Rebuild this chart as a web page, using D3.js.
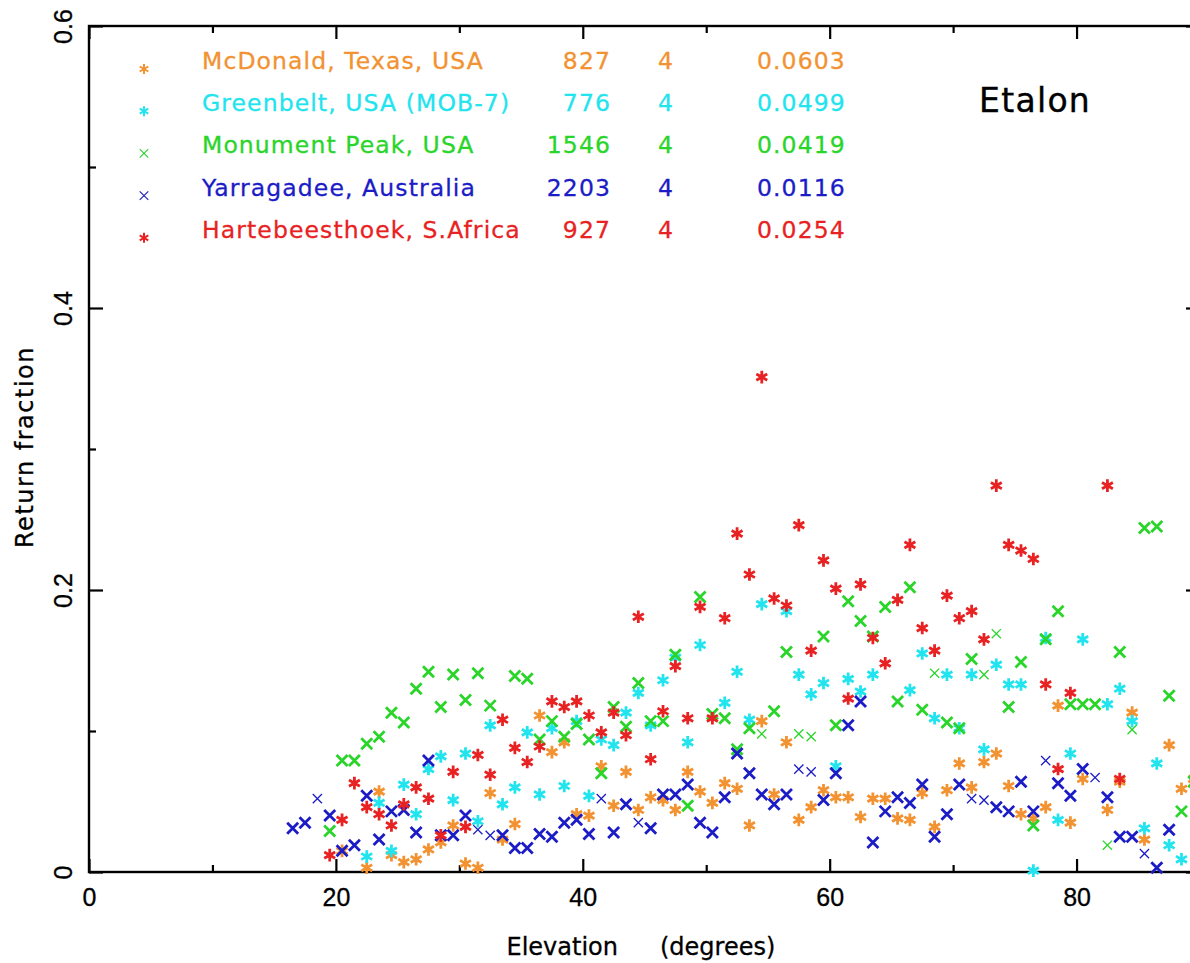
<!DOCTYPE html>
<html>
<head>
<meta charset="utf-8">
<script src="https://cdn.jsdelivr.net/npm/d3@7"></script>
<style>
  html, body { margin: 0; padding: 0; background: #fff; }
  svg { display: block; font-family: "DejaVu Sans", sans-serif; }
</style>
</head>
<body>
<svg id="chart" width="1190" height="963"></svg>
<script>
// elevation bin centres (degrees)
const elevation = [
  16.5, 17.5, 18.5, 19.5, 20.5, 21.5, 22.5, 23.5, 24.5, 25.5,
  26.5, 27.5, 28.5, 29.5, 30.5, 31.5, 32.5, 33.5, 34.5, 35.5,
  36.5, 37.5, 38.5, 39.5, 40.5, 41.5, 42.5, 43.5, 44.5, 45.5,
  46.5, 47.5, 48.5, 49.5, 50.5, 51.5, 52.5, 53.5, 54.5, 55.5,
  56.5, 57.5, 58.5, 59.5, 60.5, 61.5, 62.5, 63.5, 64.5, 65.5,
  66.5, 67.5, 68.5, 69.5, 70.5, 71.5, 72.5, 73.5, 74.5, 75.5,
  76.5, 77.5, 78.5, 79.5, 80.5, 81.5, 82.5, 83.5, 84.5, 85.5,
  86.5, 87.5, 88.5, 89.5
];

// return fraction per bin, null = no point
const mcdonald = [
  null, null, null, null, 0.015, null, 0.003, 0.057, 0.012, 0.007,
  0.009, 0.016, 0.021, 0.033, 0.006, 0.003, 0.056, 0.023, 0.034, null,
  0.111, 0.085, 0.092, 0.041, 0.040, 0.075, 0.047, 0.071, 0.044, 0.053,
  0.051, 0.044, 0.071, 0.057, 0.049, 0.063, 0.059, 0.033, 0.107, 0.055,
  0.092, 0.037, 0.046, 0.058, 0.053, 0.053, 0.039, 0.052, 0.052, 0.038,
  0.037, 0.056, 0.032, 0.058, 0.077, 0.060, 0.078, 0.084, 0.061, 0.041,
  0.038, 0.046, 0.118, 0.035, 0.066, null, 0.044, 0.064, 0.113, 0.023,
  null, 0.090, 0.059, 0.066
];
const greenbelt = [
  null, null, null, null, null, null, 0.011, 0.049, 0.015, 0.062,
  0.041, 0.073, 0.082, 0.051, 0.084, 0.036, 0.104, 0.048, 0.060, 0.099,
  0.055, 0.102, 0.061, 0.107, 0.054, 0.094, 0.090, 0.113, 0.127, 0.104,
  0.136, 0.152, 0.092, 0.161, null, 0.120, 0.142, 0.108, 0.190, null,
  0.185, 0.140, 0.126, 0.134, 0.075, 0.137, 0.128, 0.140, null, null,
  0.129, 0.155, 0.109, 0.140, 0.102, 0.140, 0.087, 0.147, 0.133, 0.133,
  0.001, 0.166, 0.037, 0.084, 0.165, null, 0.119, 0.130, 0.107, 0.031,
  0.077, 0.019, 0.009, null
];
const monument = [
  null, null, null, 0.029, 0.079, 0.079, 0.091, 0.096, 0.113, 0.106,
  0.130, 0.142, 0.117, 0.140, 0.122, 0.141, 0.118, null, 0.139, 0.137,
  0.094, 0.107, 0.096, 0.105, 0.094, 0.070, 0.117, 0.103, 0.134, 0.107,
  0.107, 0.154, 0.047, 0.195, 0.112, 0.109, 0.087, 0.102, 0.098, 0.114,
  0.156, 0.098, 0.096, 0.167, 0.104, 0.192, 0.178, 0.167, 0.188, 0.121,
  0.202, 0.115, 0.141, 0.106, 0.102, 0.151, 0.140, 0.169, 0.117, 0.149,
  0.033, 0.165, 0.185, 0.119, 0.119, 0.119, 0.019, 0.156, 0.101, 0.244,
  0.245, 0.125, 0.043, 0.064
];
const yarragadee = [
  0.031, 0.035, 0.052, 0.040, 0.015, 0.019, 0.054, 0.023, 0.043, 0.044,
  0.028, 0.079, 0.026, 0.026, 0.040, 0.030, 0.026, 0.026, 0.017, 0.017,
  0.027, 0.025, 0.035, 0.037, 0.027, 0.052, 0.028, 0.048, 0.035, 0.031,
  0.055, 0.055, 0.062, 0.035, 0.028, 0.053, 0.084, 0.070, 0.055, 0.048,
  0.055, 0.073, 0.071, 0.051, 0.070, 0.104, 0.121, 0.021, 0.043, 0.053,
  0.049, 0.062, 0.025, 0.041, 0.062, 0.052, 0.051, 0.046, 0.043, 0.064,
  0.043, 0.079, 0.063, 0.054, 0.073, 0.067, 0.053, 0.025, 0.025, 0.013,
  0.003, 0.030, null, null
];
const hartebeesthoek = [
  null, null, null, 0.012, 0.037, 0.063, 0.046, 0.041, 0.033, 0.048,
  0.060, 0.052, 0.026, 0.071, 0.032, 0.083, 0.069, 0.108, 0.088, 0.078,
  0.089, 0.121, 0.117, 0.121, 0.111, 0.099, 0.113, 0.097, 0.181, 0.080,
  0.114, 0.146, 0.109, 0.188, 0.109, 0.180, 0.240, 0.211, 0.351, 0.194,
  0.189, 0.246, 0.157, 0.221, 0.201, 0.123, 0.204, 0.166, 0.148, 0.193,
  0.232, 0.173, 0.157, 0.196, 0.180, 0.185, 0.165, 0.274, 0.232, 0.228,
  0.222, 0.133, 0.073, 0.127, null, null, 0.274, 0.066, null, null,
  null, null, null, null
];

// legend table
const stations = ["McDonald, Texas, USA", "Greenbelt, USA (MOB-7)", "Monument Peak, USA",
                  "Yarragadee, Australia", "Hartebeesthoek, S.Africa"];
const passes = [827, 776, 1546, 2203, 927];
const column2 = [4, 4, 4, 4, 4];
const fractions = ["0.0603", "0.0499", "0.0419", "0.0116", "0.0254"];

const xTicks = [0, 20, 40, 60, 80];
const xMinor = [10, 30, 50, 70, 90];
const yTicks = [0, 0.2, 0.4, 0.6];
const yMinor = [0.1, 0.3, 0.5];

// styling
const colors = ["#f29230", "#22e4ee", "#2ad52a", "#1c1cc6", "#e82222"];
const shapes = ["star", "star", "cross", "cross", "star"];
// bins where the x marker is drawn thin
const thinBins = {
  2: [54.5, 57.5, 58.5, 68.5, 72.5, 73.5, 82.5, 84.5],
  3: [18.5, 31.5, 32.5, 41.5, 44.5, 57.5, 58.5, 71.5, 72.5, 77.5, 81.5, 85.5]
};

const series = [mcdonald, greenbelt, monument, yarragadee, hartebeesthoek];

const svg = d3.select("#chart");
const plotL = 89, plotR = 1200, plotT = 26, plotB = 872;

const x = d3.scaleLinear().domain([0, 90]).range([plotL, plotR]);
const y = d3.scaleLinear().domain([0, 0.6]).range([plotB, plotT]);

function markerPath(shape, r) {
  if (shape === "cross") {
    return `M${-r},${-r}L${r},${r}M${-r},${r}L${r},${-r}`;
  }
  const c = r * Math.cos(Math.PI / 6), s = r * Math.sin(Math.PI / 6);
  return `M0,${-r}L0,${r}M${-c},${-s}L${c},${s}M${-c},${s}L${c},${-s}`;
}

// axes: ticks point inward, frame drawn separately
const fmt = d3.format("~g");
const tickStyle = g => {
  g.select(".domain").remove();
  g.selectAll(".tick line").attr("stroke", "#000").attr("stroke-width", 2.2);
  g.selectAll("text").attr("fill", "#000").attr("font-size", 25)
    .attr("stroke", "#000").attr("stroke-width", 0.3);
};

svg.append("g").attr("transform", `translate(0,${plotB})`)
  .call(d3.axisBottom(x).tickValues(xTicks).tickSize(-13).tickPadding(16).tickFormat(fmt))
  .call(tickStyle);
svg.append("g").attr("transform", `translate(0,${plotB})`)
  .call(d3.axisBottom(x).tickValues(xMinor).tickSize(-7).tickFormat(""))
  .call(tickStyle);
svg.append("g").attr("transform", `translate(0,${plotT})`)
  .call(d3.axisTop(x).tickValues(xTicks).tickSize(-13).tickFormat(""))
  .call(tickStyle);
svg.append("g").attr("transform", `translate(0,${plotT})`)
  .call(d3.axisTop(x).tickValues(xMinor).tickSize(-7).tickFormat(""))
  .call(tickStyle);

const yAxis = svg.append("g").attr("transform", `translate(${plotL},0)`)
  .call(d3.axisLeft(y).tickValues(yTicks).tickSize(-14).tickFormat(fmt))
  .call(tickStyle);
yAxis.selectAll(".tick text")
  .attr("transform", "rotate(-90)")
  .attr("x", 0).attr("y", -17).attr("dy", 0)
  .attr("text-anchor", "middle");
svg.append("g").attr("transform", `translate(${plotL},0)`)
  .call(d3.axisLeft(y).tickValues(yMinor).tickSize(-7).tickFormat(""))
  .call(tickStyle);
svg.append("g").attr("transform", `translate(${plotR},0)`)
  .call(d3.axisRight(y).tickValues(yTicks).tickSize(-14).tickFormat(""))
  .call(tickStyle);
svg.append("g").attr("transform", `translate(${plotR},0)`)
  .call(d3.axisRight(y).tickValues(yMinor).tickSize(-7).tickFormat(""))
  .call(tickStyle);

svg.append("rect")
  .attr("x", plotL).attr("y", plotT)
  .attr("width", plotR - plotL).attr("height", plotB - plotT)
  .attr("fill", "none").attr("stroke", "#000").attr("stroke-width", 2.4);

// axis titles
const title = (sel) => sel.attr("font-size", 24).attr("fill", "#000")
  .attr("stroke", "#000").attr("stroke-width", 0.3);
svg.append("text").attr("x", 618).attr("y", 955)
  .attr("text-anchor", "end").call(title).text("Elevation");
svg.append("text").attr("x", 660).attr("y", 955)
  .call(title).text("(degrees)");
svg.append("text")
  .attr("transform", "translate(33,447) rotate(-90)")
  .attr("text-anchor", "middle").call(title)
  .attr("letter-spacing", 1.5).text("Return fraction");

// points
series.forEach((vals, si) => {
  const pts = elevation.map((e, i) => ({ e, v: vals[i] })).filter(d => d.v != null);
  const thin = thinBins[si] || [];
  svg.append("g")
    .selectAll("path")
    .data(pts)
    .join("path")
    .attr("transform", d => `translate(${x(d.e)},${y(d.v)})`)
    .attr("d", d => markerPath(shapes[si], thin.includes(d.e) ? 4.6 : (shapes[si] === "star" ? 6.3 : 5.5)))
    .attr("fill", "none")
    .attr("stroke", colors[si])
    .attr("stroke-width", d => thin.includes(d.e) ? 1.3 : 2.8);
});

// legend
const rowY = i => 69 + 42.2 * i;
const legend = svg.append("g");
stations.forEach((name, i) => {
  legend.append("path")
    .attr("transform", `translate(144,${rowY(i)})`)
    .attr("d", markerPath(shapes[i], shapes[i] === "star" ? 5 : 4.3))
    .attr("fill", "none").attr("stroke", colors[i])
    .attr("stroke-width", shapes[i] === "star" ? 2 : 1.1);
  const t = (xPos, anchor, txt) => legend.append("text")
    .attr("x", xPos).attr("y", rowY(i))
    .attr("text-anchor", anchor)
    .attr("font-size", 23.5).attr("letter-spacing", 1.1)
    .attr("fill", colors[i]).attr("stroke", colors[i]).attr("stroke-width", 0.3)
    .text(txt);
  t(202, "start", name);
  t(611, "end", passes[i]);
  t(666, "middle", column2[i]);
  t(757, "start", fractions[i]);
});

svg.append("text").attr("x", 979).attr("y", 112)
  .attr("font-size", 33).attr("letter-spacing", 1.3)
  .attr("fill", "#000").attr("stroke", "#000").attr("stroke-width", 0.4)
  .text("Etalon");
</script>
</body>
</html>
